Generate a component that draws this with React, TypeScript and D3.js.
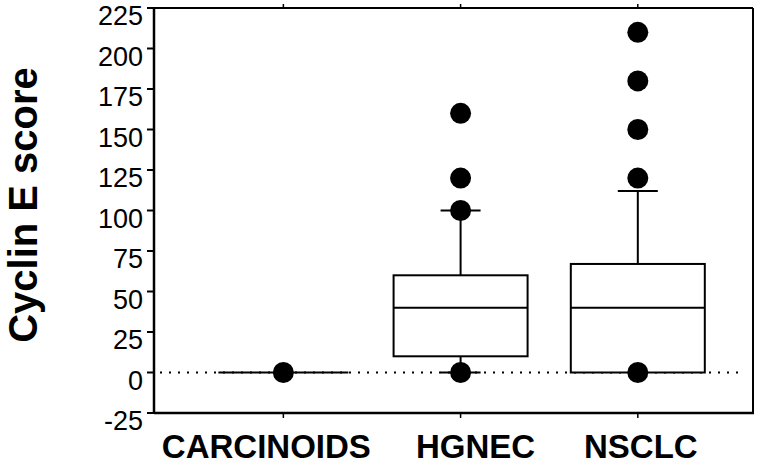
import * as d3 from "d3";

const categories = ["CARCINOIDS", "HGNEC", "NSCLC"];
const lowWhisker = [0, 0, 0];
const q1 = [0, 10, 0];
const median = [0, 40, 40];
const q3 = [0, 60, 67];
const highWhisker = [0, 100, 112];
const outliers = [[0], [0, 100, 120, 160], [0, 120, 150, 180, 210]];
const yTicks = [-25, 0, 25, 50, 75, 100, 125, 150, 175, 200, 225];

const W = 766;
const H = 468;
const left = 154;
const right = 753;
const top = 8;
const bottom = 413;
// category labels sit a little off their ticks in the original
const labelShift = [-17, 15, 3];

export default function App() {
  const y = d3.scaleLinear().domain([-25, 225]).range([bottom, top]);
  const x = d3.scaleLinear().domain([-0.73, 2.65]).range([left, right]);
  const boxHalf = 67;
  const capHalf = 20;
  const font = "'Liberation Sans', Arial, Helvetica, sans-serif";

  return (
    <svg
      width={W}
      height={H}
      style={{ position: "absolute", left: 0, top: 0, background: "#fff" }}
      fontFamily={font}
    >
      {/* zero reference line */}
      <line
        x1={left + 6}
        x2={740}
        y1={y(0)}
        y2={y(0)}
        stroke="#000"
        strokeWidth={2}
        strokeDasharray="2 7"
      />

      {categories.map((c, i) => {
        const cx = x(i);
        return (
          <g key={c}>
            {highWhisker[i] > q3[i] && (
              <>
                <line x1={cx} x2={cx} y1={y(q3[i])} y2={y(highWhisker[i])} stroke="#000" strokeWidth={2} />
                <line x1={cx - capHalf} x2={cx + capHalf} y1={y(highWhisker[i])} y2={y(highWhisker[i])} stroke="#000" strokeWidth={2} />
              </>
            )}
            {lowWhisker[i] < q1[i] && (
              <>
                <line x1={cx} x2={cx} y1={y(q1[i])} y2={y(lowWhisker[i])} stroke="#000" strokeWidth={2} />
                <line x1={cx - capHalf} x2={cx + capHalf} y1={y(lowWhisker[i])} y2={y(lowWhisker[i])} stroke="#000" strokeWidth={2} />
              </>
            )}
            {q3[i] > q1[i] ? (
              <>
                <rect
                  x={cx - boxHalf}
                  y={y(q3[i])}
                  width={boxHalf * 2}
                  height={y(q1[i]) - y(q3[i])}
                  fill="#fff"
                  stroke="#000"
                  strokeWidth={2}
                />
                <line x1={cx - boxHalf} x2={cx + boxHalf} y1={y(median[i])} y2={y(median[i])} stroke="#000" strokeWidth={2} />
              </>
            ) : (
              <line x1={cx - boxHalf + 2} x2={cx + boxHalf - 2} y1={y(median[i])} y2={y(median[i])} stroke="#000" strokeWidth={2} />
            )}
            {outliers[i].map((v, j) => (
              <circle key={j} cx={cx} cy={y(v)} r={10.5} fill="#000" />
            ))}
          </g>
        );
      })}

      {/* frame */}
      <line x1={left} x2={right} y1={top} y2={top} stroke="#000" strokeWidth={2} />
      <line x1={right} x2={right} y1={top} y2={bottom} stroke="#000" strokeWidth={2} />
      <line x1={left} x2={right + 1} y1={bottom} y2={bottom} stroke="#000" strokeWidth={2.5} />
      <line x1={left} x2={left} y1={top - 1} y2={bottom + 1} stroke="#000" strokeWidth={2.5} />

      {/* y axis */}
      {yTicks.map((t) => (
        <g key={t}>
          <line x1={left - 7} x2={left} y1={y(t)} y2={y(t)} stroke="#000" strokeWidth={2} />
          <text x={left - 11} y={y(t) + 17} textAnchor="end" fontSize={27}>
            {t}
          </text>
        </g>
      ))}

      {/* x axis */}
      {categories.map((c, i) => (
        <g key={c}>
          <line x1={x(i)} x2={x(i)} y1={bottom} y2={bottom + 5} stroke="#000" strokeWidth={1.5} />
          <line x1={x(i)} x2={x(i)} y1={top} y2={top - 4} stroke="#000" strokeWidth={1.5} />
          <text x={x(i) + labelShift[i]} y={458} textAnchor="middle" fontSize={33} fontWeight="bold">
            {c}
          </text>
        </g>
      ))}

      <text
        transform={`translate(37,205) rotate(-90)`}
        textAnchor="middle"
        fontSize={40}
        fontWeight="bold"
      >
        Cyclin E score
      </text>
    </svg>
  );
}
